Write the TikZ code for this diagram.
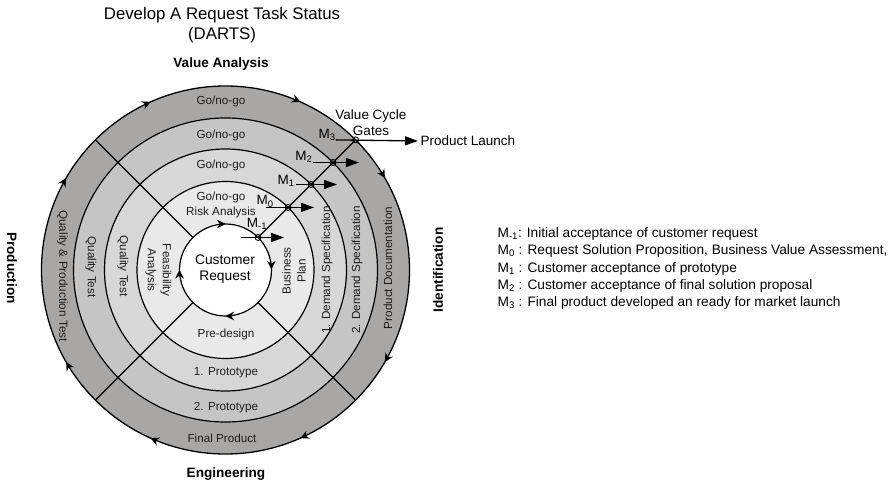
\documentclass[tikz,border=0pt]{standalone}
\usepackage{fontspec}
\setmainfont{Liberation Sans}
\usetikzlibrary{arrows.meta,positioning,calc,decorations.markings}

\definecolor{ringA}{HTML}{E9E9E9}
\definecolor{ringB}{HTML}{D8D7D7}
\definecolor{ringC}{HTML}{C6C5C5}
\definecolor{ringD}{HTML}{A9A7A6}
\definecolor{inkgray}{HTML}{1E1E1E}

\tikzset{
    >={Stealth[]},
    every picture/.style={line width=1.2pt},
    ringtext/.style={font=\fontsize{11.7}{15}\selectfont,inner sep=0pt,text=inkgray},
    sidetext/.style={font=\bfseries\fontsize{13.6}{16}\selectfont,inner sep=0pt},
    gatelabel/.style={font=\fontsize{13.5}{16}\selectfont,inner sep=0pt},
    gate/.style={circle,draw,minimum size=6pt,inner sep=0pt,line width=0.9pt},
    gatearrow/.style={line width=1.3pt,-{Triangle[length=13pt,width=9pt]}},
    divline/.style={line width=1.3pt},
    ringarrow/.style={postaction={decorate,decoration={markings,
        mark=at position #1 with {\arrowreversed{Stealth[length=8.5pt,width=8.5pt]}}}}}
}

\begin{document}
\begin{tikzpicture}[x=1pt,y=1pt]
    \useasboundingbox (0,0) rectangle (889,-486);
    \coordinate (c) at (225.5,-270);

    % title and the four phases
    \node[font=\fontsize{16.8}{20}\selectfont,align=center,inner sep=0pt] (title) at (222,-25)
        {Develop A Request Task Status\\(DARTS)};
    \node[sidetext] (value) at (221,-64) {Value Analysis};
    \node[sidetext] (engineering) at (226,-474) {Engineering};
    \node[sidetext,rotate=-90] (production) at (12,-268) {Production};
    \node[sidetext,rotate=90] (identification) at (438,-270) {Identification};

    % rings
    \draw[fill=ringD,line width=1.3pt,ringarrow=0.0833,ringarrow=0.1833,ringarrow=0.3167,ringarrow=0.4167,
        ringarrow=0.5833,ringarrow=0.6833,ringarrow=0.8167,ringarrow=0.9167] (c) circle (184);
    \draw[fill=ringC] (c) circle (152);
    \draw[fill=ringB] (c) circle (121);
    \draw[fill=ringA] (c) circle (88.5);
    \draw[fill=white,ringarrow=0.002,ringarrow=0.25,ringarrow=0.5,ringarrow=0.75] (c) circle (46);
    \foreach \a in {45,135,225,315}
        \draw[divline] ([shift={(\a:46)}]c) -- ([shift={(\a:184)}]c);

    \node[font=\fontsize{13.8}{16.5}\selectfont,align=center,inner sep=0pt] (request) at (225,-269)
        {Customer\\Request};

    % top: go/no-go
    \node[ringtext] (gonogo3) at (221,-101) {Go/no-go};
    \node[ringtext] (gonogo2) at (221,-135) {Go/no-go};
    \node[ringtext] (gonogo1) at (221,-165) {Go/no-go};
    \node[ringtext,align=center] (risk) at (221,-204.5) {Go/no-go\\Risk Analysis};

    % bottom
    \node[ringtext] (predesign) at (226,-334) {Pre-design};
    \node[ringtext] (proto1) at (226,-373) {1. Prototype};
    \node[ringtext] (proto2) at (226,-408) {2. Prototype};
    \node[ringtext] (final) at (222,-438) {Final Product};

    % left
    \node[ringtext,rotate=-90] (qptest) at (62.5,-276) {Quality \& Production Test};
    \node[ringtext,rotate=-90] (qtest2) at (91,-267) {Quality Test};
    \node[ringtext,rotate=-90] (qtest1) at (123,-266) {Quality Test};
    \node[ringtext,rotate=-90,align=center] (feasibility) at (158.5,-270) {Feasibility\\Analysis};

    % right
    \node[ringtext,rotate=90,align=center] (business) at (294,-271) {Business\\Plan};
    \node[ringtext,rotate=90] (demand1) at (327,-270) {1. Demand Specification};
    \node[ringtext,rotate=90] (demand2) at (357,-270) {2. Demand Specification};
    \node[ringtext,rotate=90] (productdoc) at (388,-268) {Product Documentation};

    % value cycle gates
    \foreach \n/\r/\l in {gm1/46/17,g0/88.5/22,g1/121/15,g2/152/20,g3/184/20}{
        \node[gate] (\n) at ([shift={(45:\r)}]c) {};
        \coordinate (\n-in) at ([xshift=-\l pt]\n.center);
        \coordinate (\n-out) at ([xshift=26pt]\n.center);
    }
    \node[gatelabel,align=center] (gates) at (371,-123) {Value Cycle\\Gates};
    \node[gatelabel,anchor=west,inner sep=2pt] (launch) at (418,-141) {Product Launch};
    \foreach \n in {gm1,g0,g1,g2}
        \draw[gatearrow] (\n-in) -- (\n-out);
    \draw[gatearrow] (g3-in) -- (launch.west);
    \node[gatelabel] (mm1) at ([shift={(-1,13.5)}]gm1) {M\textsubscript{-1}};
    \node[gatelabel] (m0) at ([shift={(-23,6)}]g0) {M\textsubscript{0}};
    \node[gatelabel] (m1) at ([shift={(-25,4)}]g1) {M\textsubscript{1}};
    \node[gatelabel] (m2) at ([shift={(-29,5.5)}]g2) {M\textsubscript{2}};
    \node[gatelabel] (m3) at ([shift={(-28.6,5)}]g3) {M\textsubscript{3}};

    % legend
    \node[font=\fontsize{13.7}{17.3}\selectfont,align=left,inner sep=0pt,anchor=north west] (legend)
        at (497,-227) {M\textsubscript{-1}: Initial acceptance of customer request\\
        M\textsubscript{0} : Request Solution Proposition, Business Value Assessment,\\
        M\textsubscript{1} : Customer acceptance of prototype\\
        M\textsubscript{2} : Customer acceptance of final solution proposal\\
        M\textsubscript{3} : Final product developed an ready for market launch};
\end{tikzpicture}
\end{document}
